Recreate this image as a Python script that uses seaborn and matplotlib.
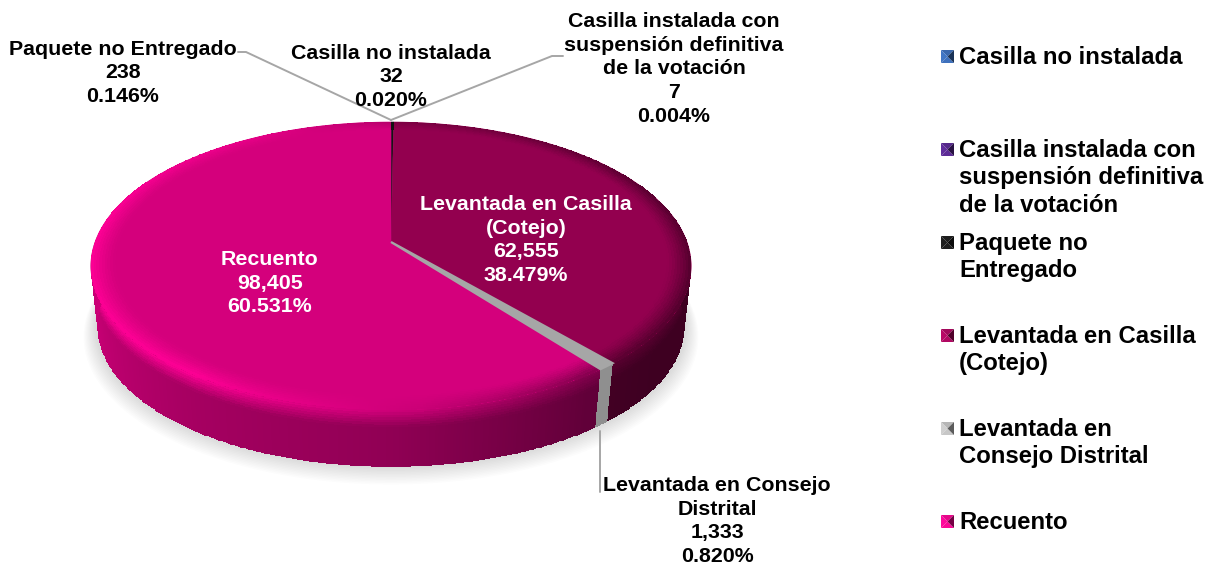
import numpy as np
import matplotlib
matplotlib.use("Agg")
import matplotlib.pyplot as plt
import seaborn as sns
from matplotlib.patches import Polygon

categories = ["Casilla no instalada", "Casilla instalada con\nsuspensión definitiva\nde la votación",
              "Paquete no\nEntregado", "Levantada en Casilla\n(Cotejo)",
              "Levantada en\nConsejo Distrital", "Recuento"]
data_names = ["Casilla no instalada", "Casilla instalada con\nsuspensión definitiva\nde la votación",
              "Paquete no Entregado", "Levantada en Casilla\n(Cotejo)",
              "Levantada en Consejo\nDistrital", "Recuento"]
values = [32, 7, 238, 62555, 1333, 98405]
colors = ["#2F5C9E", "#4A1F7C", "#141414", "#93004F", "#A6A6A6", "#D4007C"]

sns.set_theme(style="white")
plt.rcParams["font.family"] = ["Liberation Sans", "DejaVu Sans"]
palette = sns.color_palette(colors)

fig, ax = plt.subplots(figsize=(12.1, 5.67), dpi=100)
ax.set_position([0, 0, 1, 1])
ax.set_xlim(0, 1210)
ax.set_ylim(567, 0)
ax.axis("off")

# perspective projection of the pie disc
CX, CY, RX, RY, K, DEPTH = 391, 242, 296, 140, 1 / 6, 58

def project(theta, r=1.0, drop=0.0):
    w = 1 + K * r * np.cos(theta)
    return CX + RX * r * np.sin(theta) / w, CY - RY * r * np.cos(theta) / w + drop

total = sum(values)
edges = 2 * np.pi * np.concatenate([[0], np.cumsum(values)]) / total

# soft shadow under the pie
t = np.linspace(0, 2 * np.pi, 240)
for i in range(12):
    sx, sy = project(t, 0.985 + i * 0.0035, DEPTH + 3 + i * 0.8)
    ax.add_patch(Polygon(np.c_[sx, sy], closed=True, fc="black", ec="none", alpha=0.012, zorder=1))

def side_shade(theta):
    return np.interp(theta, np.radians([0, 90, 125, 145, 180, 215, 250, 280, 360]),
                     [.42, .42, .42, .46, .68, .78, .92, 1.0, 1.0])

def rim_shade(theta):
    return np.interp(theta, np.radians([0, 60, 110, 145, 175, 215, 280, 330, 360]),
                     [.85, .62, .55, .62, .95, 1.2, 1.2, 1.08, .85])

# side wall then bevel, for the front half
for val, a0, a1, col in zip(values, edges[:-1], edges[1:], palette):
    base = np.array(col)
    n = max(2, int((a1 - a0) / np.radians(0.5)))
    th = np.linspace(a0, a1, n)
    vs = np.linspace(0, 1, 24)
    T, V = np.meshgrid(th, vs)
    X, Y = project(T, 1.0 - 0.022 * V, DEPTH * V + 3.2 * V)
    Tc = 0.5 * (T[:-1, :-1] + T[1:, 1:])
    Vc = 0.5 * (V[:-1, :-1] + V[1:, 1:])
    if col == palette[4]:
        rgb = np.clip(base * (0.86 + 0 * Vc)[..., None], 0, 1)
    else:
        sh = side_shade(Tc)
        rim = rim_shade(Tc)
        blend = np.clip(Vc / 0.3, 0, 1)
        factor = rim * (1 - blend) + sh * blend
        rgb = np.clip(base[None, None, :] * factor[..., None], 0, 1)
    if (a1 > np.pi / 2) and (a0 < 3 * np.pi / 2 + 0.6):
        ax.pcolormesh(X, Y, rgb, shading="flat", zorder=2, antialiased=False, linewidth=0, rasterized=True)

    # top face
    arc = np.linspace(a0, a1, max(2, n))
    px, py = project(arc)
    lw = 1.6 if col == palette[4] else 0.4
    ax.add_patch(Polygon(np.r_[[[CX, CY]], np.c_[px, py]], closed=True, fc=col, ec=col, lw=lw,
                         zorder=5 if col == palette[4] else 3))

    # bevel along the rim of the top face
    if col != palette[4]:
        rs = np.linspace(0.92, 1.0, 10)
        T2, R2 = np.meshgrid(th, rs)
        X2, Y2 = project(T2, R2)
        Tc2 = 0.5 * (T2[:-1, :-1] + T2[1:, 1:])
        Rc2 = 0.5 * (R2[:-1, :-1] + R2[1:, 1:])
        b = ((Rc2 - 0.92) / 0.08) ** 1.3
        f2 = 1 * (1 - b) + rim_shade(Tc2) * b
        ax.pcolormesh(X2, Y2, np.clip(base[None, None, :] * f2[..., None], 0, 1),
                      shading="flat", zorder=4, antialiased=False, linewidth=0, rasterized=True)

# leader lines
lead = dict(color="#A6A6A6", lw=1.4, zorder=6, solid_joinstyle="miter")
ax.plot([238, 246, 391], [52, 52, 120], **lead)
ax.plot([391, 552, 563], [120, 56, 56], **lead)
ax.plot([600, 600], [431, 492], **lead)

def data_label(i, x, y, color="black"):
    pct = values[i] / total * 100
    ax.text(x, y, f"{data_names[i]}\n{values[i]:,}\n{pct:.3f}%", ha="center", va="center", color=color,
            fontsize=15.4, fontweight="bold", linespacing=1.31, zorder=7)

data_label(2, 123, 73)
data_label(0, 391, 77)
data_label(1, 674, 69)
data_label(3, 526, 240, "white")
data_label(5, 270, 283, "white")
data_label(4, 717, 521)

# legend
legend_y = [57, 150, 243, 336, 429, 522]
for name, col, y in zip(categories, palette, legend_y):
    ax.text(959, y - 11, name, ha="left", va="top", fontsize=17.2, fontweight="bold",
            color="black", linespacing=1.24, zorder=7)
    c = np.array(col)
    x0, x1, y0, y1, xm, ym = 941, 954, y - 7, y + 6, 947.5, y - 0.5
    tris = [([x0, xm, x1], [y0, ym, y0], 1.05),
            ([x0, xm, x0], [y0, ym, y1], 1.2),
            ([x0, xm, x1], [y1, ym, y1], 1.15),
            ([x1, xm, x1], [y0, ym, y1], 0.55)]
    for xs, ys, f in tris:
        ax.fill(xs, ys, color=np.clip(c * f + (0.03 if f > 1 else 0), 0, 1), lw=0, zorder=6)

fig.savefig("out.png", dpi=100, facecolor="white")
